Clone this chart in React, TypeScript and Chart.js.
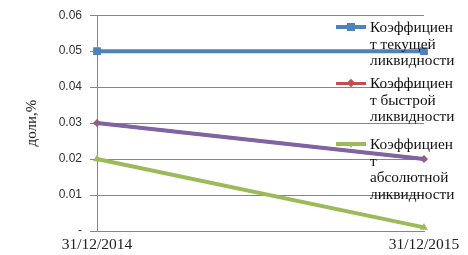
import React, { useEffect, useRef } from "react";
import { Chart, registerables } from "chart.js";

Chart.register(...registerables);

const categories = ["31/12/2014", "31/12/2015"];
const currentLiquidity = [0.05, 0.05];
const quickLiquidity = [0.03, 0.02];
const absoluteLiquidity = [0.02, 0.001];
const extraSeries = [0.03, 0.02];
const yTickLabels = ["-", "0.01", "0.02", "0.03", "0.04", "0.05", "0.06"];
const seriesNames = [
  "Коэффициент текущей ликвидности",
  "Коэффициент быстрой ликвидности",
  "Коэффициент абсолютной ликвидности",
];
const legendLines = [
  ["Коэффициен", "т текущей", "ликвидности"],
  ["Коэффициен", "т быстрой", "ликвидности"],
  ["Коэффициен", "т", "абсолютной", "ликвидности"],
];
const yTitle = "доли,%";

const BLUE = "#4F81BD";
const RED = "#C0504D";
const GREEN = "#9BBB59";
const PURPLE = "#8064A2";
const GRID = "#868686";

export default function App() {
  const ref = useRef<HTMLCanvasElement>(null);

  useEffect(() => {
    if (!ref.current) return;
    const chart = new Chart(ref.current, {
      type: "line",
      data: {
        labels: categories,
        datasets: [
          {
            label: seriesNames[0],
            data: currentLiquidity,
            borderColor: BLUE,
            backgroundColor: BLUE,
            borderWidth: 4,
            pointStyle: "rect",
            pointRadius: 5.5,
            pointBorderWidth: 0,
            order: 4,
            clip: false,
          },
          {
            label: seriesNames[1],
            data: quickLiquidity,
            borderColor: RED,
            backgroundColor: RED,
            borderWidth: 3,
            pointStyle: "rectRot",
            pointRadius: 4,
            pointBorderWidth: 0,
            order: 3,
            clip: false,
          },
          {
            label: seriesNames[2],
            data: absoluteLiquidity,
            borderColor: GREEN,
            backgroundColor: GREEN,
            borderWidth: 4,
            pointStyle: "triangle",
            pointRadius: 4.5,
            pointBorderWidth: 0,
            order: 2,
            clip: false,
          },
          {
            label: "",
            data: extraSeries,
            borderColor: PURPLE,
            backgroundColor: PURPLE,
            borderWidth: 4,
            pointStyle: "triangle",
            pointRadius: 3.5,
            pointBorderWidth: 0,
            order: 1,
            clip: false,
          },
        ],
      },
      options: {
        animation: false,
        responsive: false,
        maintainAspectRatio: false,
        layout: { padding: { left: 0, right: 44, top: 13, bottom: 0 } },
        plugins: { legend: { display: false }, tooltip: { enabled: false } },
        elements: { line: { tension: 0 } },
        scales: {
          x: {
            type: "category",
            offset: false,
            grid: { display: false, drawTicks: false },
            border: { display: true, color: GRID, width: 1 },
            ticks: {
              color: "#222",
              padding: 5,
              maxRotation: 0,
              autoSkip: false,
              font: { family: "'Liberation Serif', 'Times New Roman', serif", size: 15.5 },
            },
            afterFit: (s: any) => {
              s.height = 24;
            },
          },
          y: {
            min: 0,
            max: 0.06,
            grid: { color: GRID, lineWidth: 1, drawTicks: true, tickLength: 7, tickColor: GRID },
            border: { display: true, color: GRID, width: 1 },
            ticks: {
              stepSize: 0.01,
              padding: 8,
              color: "#333",
              font: { family: "'Liberation Sans', Arial, sans-serif", size: 12 },
              callback: (_v: any, i: number) => yTickLabels[i],
            },
            title: {
              display: true,
              text: yTitle,
              color: "#222",
              padding: { top: 23, bottom: 0 },
              font: { family: "'Liberation Serif', 'Times New Roman', serif", size: 15 },
            },
            afterFit: (s: any) => {
              s.width = 97;
            },
          },
        },
      },
    });
    return () => chart.destroy();
  }, []);

  const colors = [BLUE, RED, GREEN];
  const tops = [19, 75, 136];
  const textStyle: React.CSSProperties = {
    position: "absolute",
    left: 370,
    fontFamily: "'Liberation Serif', 'Times New Roman', serif",
    fontSize: 15.3,
    lineHeight: "16.7px",
    color: "#111",
    whiteSpace: "nowrap",
  };

  const marker = (i: number) => {
    const cy = tops[i] + 8;
    if (i === 0) {
      return (
        <div
          style={{ position: "absolute", left: 347, top: cy - 4, width: 8, height: 8, background: BLUE }}
        />
      );
    }
    if (i === 1) {
      return (
        <div
          style={{
            position: "absolute",
            left: 348,
            top: cy - 3,
            width: 6,
            height: 6,
            background: RED,
            transform: "rotate(45deg)",
          }}
        />
      );
    }
    return (
      <div
        style={{
          position: "absolute",
          left: 347,
          top: cy - 2,
          width: 0,
          height: 0,
          borderLeft: "4px solid transparent",
          borderRight: "4px solid transparent",
          borderTop: "6px solid " + GREEN,
        }}
      />
    );
  };

  return (
    <div style={{ position: "absolute", left: 0, top: 0, width: 468, height: 255, background: "#fff" }}>
      <canvas ref={ref} width={468} height={255} style={{ position: "absolute", left: 0, top: 0 }} />
      {legendLines.map((lines, i) => (
        <React.Fragment key={i}>
          <div
            style={{
              position: "absolute",
              left: 336,
              top: tops[i] + 8 - (i === 1 ? 1.5 : 2),
              width: 30,
              height: i === 1 ? 3 : 4,
              background: colors[i],
            }}
          />
          {marker(i)}
          <div style={{ ...textStyle, top: tops[i] }}>
            {lines.map((l, j) => (
              <div key={j}>{l}</div>
            ))}
          </div>
        </React.Fragment>
      ))}
    </div>
  );
}
